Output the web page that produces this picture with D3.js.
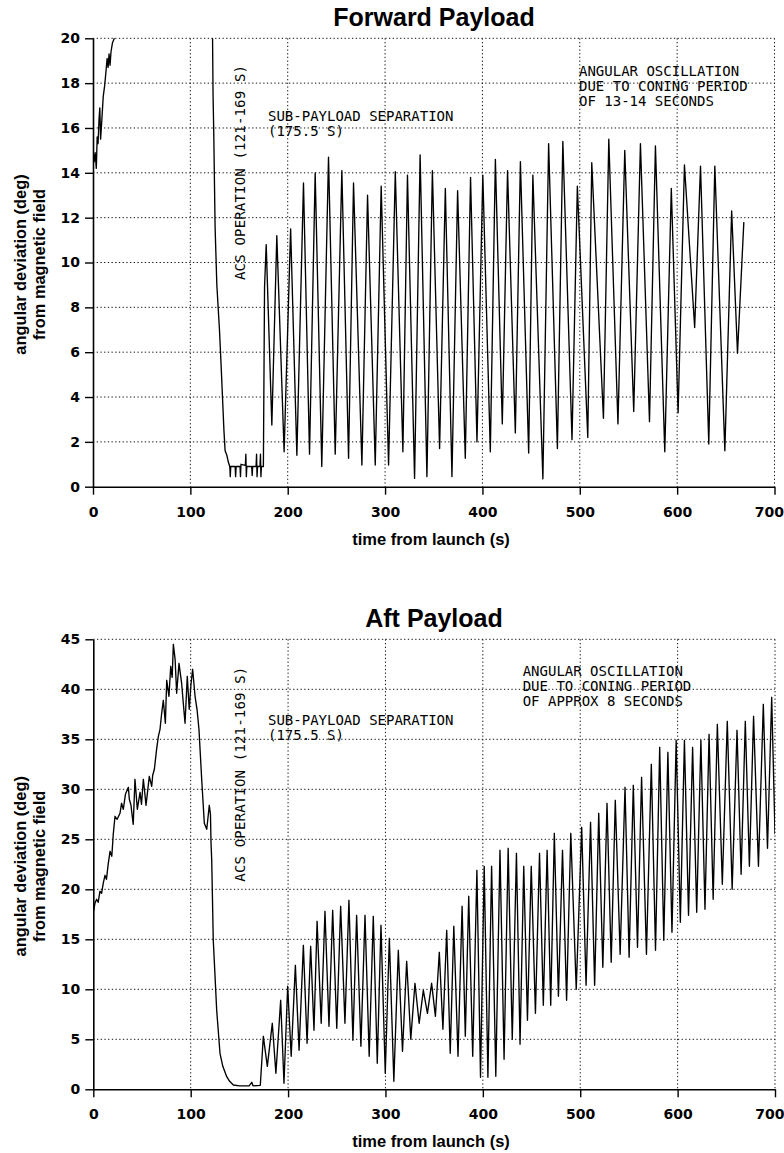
<!DOCTYPE html>
<html><head><meta charset="utf-8">
<script src="https://cdn.jsdelivr.net/npm/d3@7"></script>
<style>body{margin:0;background:#fff}svg{display:block}</style>
</head><body>
<svg id="c" width="784" height="1153"></svg>
<script>
// ---------- tick labels ----------
const xTicks = [0,100,200,300,400,500,600,700];
const fwdYTicks = [0,2,4,6,8,10,12,14,16,18,20];
const aftYTicks = [0,5,10,15,20,25,30,35,40,45];

// ---------- text ----------
const titles = ["Forward Payload", "Aft Payload"];
const xLabel = "time from launch (s)";
const yLabel = ["angular deviation (deg)", "from magnetic field"];
const sepNote = ["SUB-PAYLOAD SEPARATION", "(175.5 S)"];
const acsNote = "ACS OPERATION (121-169 S)";
const fwdNote = ["ANGULAR OSCILLATION", "DUE TO CONING PERIOD", "OF 13-14 SECONDS"];
const aftNote = ["ANGULAR OSCILLATION", "DUE TO CONING PERIOD", "OF APPROX 8 SECONDS"];

// ---------- Forward payload data [time s, deg] ----------
const fwdLaunch = [[0,15.0],[1.2,14.5],[2.2,14.9],[3.4,14.2],[4.3,15.6],[5.2,15.3],[6.2,16.4],[7.0,16.9],[7.8,15.5],[9.0,16.3],[10.5,17.4],[12.0,17.9],[13.5,18.6],[14.5,19.1],[15.5,18.7],[16.5,19.3],[17.5,18.8],[18.5,19.4],[20.0,19.8],[22.0,20.0]];
const fwdAcs = [[122.8,20],[123.3,17.5],[124.0,15.9],[125.4,11.6],[127.2,9.0],[129.9,7.0],[131.5,5.5],[133.0,4.0],[134.5,2.5],[135.7,1.6],[137.5,1.4],[139.0,1.1],[140.5,0.9],[141.0,0.45],[141.5,0.9],[146.0,0.9],[146.5,0.45],[147.0,0.9],[151.0,0.9],[151.5,0.45],[152.0,1.0],[156.5,0.95],[157.0,1.45],[157.5,0.45],[158.0,0.9],[163.0,0.9],[163.5,0.5],[164.0,0.9],[167.5,0.9],[168.0,1.45],[168.5,0.45],[169.0,0.9],[171.5,0.9],[172.0,1.45],[172.5,0.45],[173.0,0.9],[175.0,0.9],[176.2,8.9]];
const fwdPeaks = [[177.9,10.8],[188.8,11.2],[203.0,11.5],[216.2,13.55],[228.2,14.0],[241.9,14.7],[255.6,14.1],[267.6,13.55],[282.0,13.0],[296.0,13.4],[310.5,14.05],[323.0,13.9],[336.0,14.8],[348.6,14.1],[361.9,13.3],[374.5,13.2],[387.8,13.8],[400.4,13.9],[413.3,14.6],[425.8,14.1],[439.0,14.5],[451.8,13.9],[468.0,15.3],[482.6,15.4],[497.5,13.4],[512.3,14.45],[529.8,15.5],[546.2,15.0],[562.3,15.3],[577.7,15.2],[594.0,13.3],[607.5,14.35],[624.0,14.3],[638.7,14.3],[656.0,12.3],[668.5,11.8]];
const fwdTroughs = [[183.7,2.75],[196.3,1.56],[209.4,1.4],[222.4,1.45],[235.0,0.9],[248.8,1.45],[262.5,1.27],[276.2,0.97],[289.9,0.97],[303.6,0.97],[318.3,1.56],[330.3,0.37],[343.0,0.45],[356.0,1.7],[368.7,0.45],[382.4,1.27],[394.4,2.0],[408.1,1.56],[420.4,2.8],[433.8,2.4],[447.5,1.5],[462.1,0.35],[477.0,1.7],[492.0,2.1],[508.2,2.2],[524.3,3.05],[539.2,2.8],[555.4,3.35],[571.6,2.9],[587.3,1.56],[601.0,3.3],[618.0,7.1],[632.5,1.9],[649.0,1.6],[662.0,5.95]];

// ---------- Aft payload data [time s, deg] ----------
const aftLaunch = [[0,17.7],[1.7,18.6],[3.4,19.0],[5.0,18.7],[6.8,19.8],[8.5,19.6],[10.2,20.6],[12.0,21.4],[13.5,21.0],[15.4,22.6],[17.2,23.8],[19.0,23.3],[20.5,25.5],[22.3,27.3],[24.5,27.0],[27.4,27.6],[29.0,28.6],[30.8,28.0],[33.0,29.5],[36.0,30.2],[37.0,29.0],[38.7,28.4],[40.0,27.3],[41.0,26.5],[42.8,31.0],[44.0,29.5],[45.2,28.0],[48.0,29.7],[49.5,28.5],[51.4,31.0],[53.0,29.5],[54.1,28.4],[56.0,30.0],[57.5,31.3],[60.0,30.3],[61.0,31.4],[62.7,32.0],[65.0,34.0],[66.8,35.3],[68.5,36.0],[70.2,37.6],[71.9,38.9],[74.0,36.6],[75.4,40.9],[77.7,39.3],[79.5,42.3],[81.0,41.2],[82.2,44.5],[84.0,43.0],[85.6,39.6],[88.0,42.6],[90.7,40.6],[92.5,38.5],[94.2,36.6],[96.5,41.3],[98.5,38.0],[100.3,40.5],[102.0,42.0],[104.5,39.3],[106.5,38.0],[108.5,36.0],[111.3,31.0],[114.0,26.6],[116.5,26.0],[119.1,28.4],[120.3,27.5],[120.9,24.6]];
const aftAcs = [[121.6,22.9],[123.2,14.9],[126.7,7.9],[130.1,3.6],[133.0,2.3],[137.0,1.26],[140.0,0.8],[143.8,0.43],[150.0,0.35],[160.0,0.35],[162.7,0.7],[164.0,0.35],[171.5,0.4]];
const aftPeaks = [[174.6,5.3],[183.8,6.6],[192.4,8.9],[199.6,10.3],[207.5,12.4],[215.7,14.4],[223.2,14.3],[229.8,16.8],[237.9,17.8],[245.8,17.9],[254.0,18.3],[262.5,18.9],[270.4,17.4],[279.0,17.4],[287.5,17.3],[295.4,16.4],[304.0,15.1],[313.2,13.9],[321.8,12.8],[330.3,10.6],[338.9,9.9],[347.4,10.6],[355.3,13.7],[362.9,15.9],[370.2,16.3],[378.7,18.3],[385.5,19.3],[393.9,21.9],[401.4,22.3],[409.0,22.3],[417.6,23.9],[426.0,24.1],[434.5,23.6],[442.0,22.3],[449.7,22.3],[458.2,23.6],[466.0,23.9],[473.4,25.6],[481.8,23.9],[490.3,25.6],[501.5,26.2],[510.6,26.7],[519.0,27.6],[527.5,28.6],[536.0,28.9],[546.0,30.2],[554.5,30.4],[563.0,31.2],[573.0,32.5],[581.6,34.2],[590.0,33.7],[598.5,34.9],[607.0,34.9],[615.4,34.2],[623.9,34.9],[632.3,35.5],[640.8,36.5],[651.0,36.8],[661.0,35.9],[669.5,36.8],[678.0,37.3],[688.0,38.5],[696.6,39.2]];
const aftTroughs = [[178.7,2.3],[187.5,1.6],[195.8,0.6],[203.2,3.3],[211.3,3.9],[219.5,4.6],[226.6,5.9],[234.0,6.6],[242.0,6.3],[250.0,6.1],[258.4,6.6],[266.6,4.9],[274.8,4.3],[283.3,3.3],[291.6,2.6],[299.8,1.6],[308.6,0.8],[317.5,3.8],[326.0,5.0],[334.6,6.6],[343.1,7.6],[351.3,7.3],[359.0,6.0],[366.5,3.6],[374.5,3.3],[382.0,5.3],[389.6,3.3],[397.6,1.2],[405.2,1.2],[413.3,1.3],[421.8,3.0],[430.2,5.0],[438.2,4.5],[445.8,6.9],[454.0,7.6],[462.1,8.4],[469.7,8.4],[477.6,9.3],[486.0,8.9],[495.9,10.0],[506.0,10.4],[514.8,10.4],[523.2,12.2],[531.8,12.7],[541.0,13.5],[550.2,13.2],[558.8,14.2],[568.0,13.5],[577.3,13.9],[585.8,14.9],[594.2,15.7],[602.8,16.7],[611.2,17.4],[619.6,17.7],[628.1,18.0],[636.5,19.0],[645.9,20.5],[656.0,20.0],[665.2,21.5],[673.7,22.3],[683.0,22.3],[692.3,24.1],[700.0,25.5]];

// ---------- drawing ----------
const svg = d3.select('#c');
const SANS = "'Liberation Sans', Arial, Helvetica, sans-serif";
const TICKF = "'DejaVu Sans', 'Liberation Sans', sans-serif";
const MONO = "'DejaVu Sans Mono', 'Liberation Mono', monospace";
const merge = (a, b) => a.concat(b).sort((p, q) => p[0] - q[0]);

function panel(cfg) {
  const x = d3.scaleLinear().domain([0, 700]).range([cfg.left, cfg.right]);
  const y = d3.scaleLinear().domain([0, cfg.yMax]).range([cfg.bottom, cfg.top]);
  const g = svg.append('g');

  // title
  g.append('text').attr('x', 434).attr('y', cfg.top - 12)
    .attr('text-anchor', 'middle').attr('font-family', SANS)
    .attr('font-weight', 'bold').attr('font-size', 25).text(cfg.title);

  // grid (dotted)
  const grid = g.append('g').attr('stroke', '#111').attr('stroke-width', 1)
    .attr('stroke-dasharray', '1.3,2.4').attr('fill', 'none');
  cfg.yTicks.filter(v => v > 0).forEach(v => {
    grid.append('line').attr('x1', cfg.left).attr('x2', cfg.right)
      .attr('y1', y(v)).attr('y2', y(v));
  });
  xTicks.filter(v => v > 0).forEach(v => {
    grid.append('line').attr('y1', cfg.top).attr('y2', cfg.bottom)
      .attr('x1', x(v)).attr('x2', x(v));
  });

  // axes
  const ya = g.append('g').attr('transform', `translate(${cfg.left},0)`)
    .call(d3.axisLeft(y).tickValues(cfg.yTicks).tickSize(8).tickSizeOuter(0).tickPadding(5).tickFormat(d3.format('d')));
  const xa = g.append('g').attr('transform', `translate(0,${cfg.bottom})`)
    .call(d3.axisBottom(x).tickValues(xTicks).tickSize(8).tickSizeOuter(0).tickPadding(12).tickFormat(d3.format('d')));
  [ya, xa].forEach(a => {
    a.select('.domain').attr('stroke', '#000').attr('stroke-width', 1.6);
    a.selectAll('.tick line').attr('stroke', '#000').attr('stroke-width', 1.4);
    a.selectAll('.tick text').attr('font-family', TICKF).attr('font-weight', 'bold')
      .attr('font-size', 14).attr('fill', '#000');
  });
  // keep the last x label inside the page, as in the reference
  xa.selectAll('.tick text').filter(d => d === 700).attr('text-anchor', 'end').attr('dx', 9);

  // axis titles
  g.append('text').attr('x', 431).attr('y', cfg.bottom + 58)
    .attr('text-anchor', 'middle').attr('font-family', SANS)
    .attr('font-weight', 'bold').attr('font-size', 16.5).text(xLabel);
  const cy = (cfg.top + cfg.bottom) / 2 + 2;
  [26, 45].forEach((bx, i) => {
    g.append('text').attr('transform', `translate(${bx},${cy}) rotate(-90)`)
      .attr('text-anchor', 'middle').attr('font-family', SANS)
      .attr('font-weight', 'bold').attr('font-size', 16.4).text(yLabel[i]);
  });

  // data
  const clipId = 'clip' + cfg.id;
  svg.append('clipPath').attr('id', clipId).append('rect')
    .attr('x', cfg.left).attr('y', cfg.top - 1)
    .attr('width', cfg.right - cfg.left).attr('height', cfg.bottom - cfg.top + 1);
  const line = d3.line().x(d => x(d[0])).y(d => y(d[1]));
  const lines = g.append('g').attr('clip-path', `url(#${clipId})`);
  cfg.segments.forEach(s => {
    lines.append('path').attr('d', line(s)).attr('fill', 'none')
      .attr('stroke', '#000').attr('stroke-width', 1.35)
      .attr('stroke-linejoin', 'round');
  });

  // annotations
  const ann = g.append('g').attr('font-family', MONO).attr('font-size', 14).attr('fill', '#000');
  ann.append('text').attr('transform', `translate(245,${cfg.acsY}) rotate(-90)`)
    .attr('textLength', 215).attr('lengthAdjust', 'spacing').text(acsNote);
  sepNote.forEach((t, i) => ann.append('text').attr('x', 268).attr('y', cfg.sepY + i * 15).text(t));
  cfg.note.forEach((t, i) => ann.append('text').attr('x', cfg.noteX).attr('y', cfg.noteY + i * 15).text(t));
}

panel({
  id: 'f', title: titles[0], left: 93, right: 774.5, top: 38.3, bottom: 486.7,
  yMax: 20, yTicks: fwdYTicks,
  segments: [fwdLaunch, fwdAcs.concat(merge(fwdPeaks, fwdTroughs))],
  acsY: 280, sepY: 121, note: fwdNote, noteX: 579, noteY: 76
});
panel({
  id: 'a', title: titles[1], left: 93.3, right: 775, top: 639.3, bottom: 1089.3,
  yMax: 45, yTicks: aftYTicks,
  segments: [aftLaunch.concat(aftAcs, merge(aftPeaks, aftTroughs))],
  acsY: 881.7, sepY: 725, note: aftNote, noteX: 522.7, noteY: 675.5
});
</script>
</body></html>
